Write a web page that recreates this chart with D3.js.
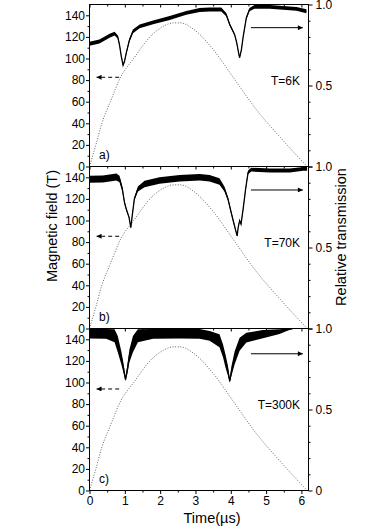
<!DOCTYPE html>
<html>
<head>
<meta charset="utf-8">
<script src="https://cdn.jsdelivr.net/npm/d3@7"></script>
<style>
body { margin: 0; background: #fff; }
svg text { font-family: "Liberation Sans", Arial, sans-serif; }
</style>
</head>
<body>
<svg width="374" height="528"></svg>
<script>
// magnetic field pulse (left axis, tesla) - same shot shape in all three panels
var fieldTime  = [0, 0.18, 0.35, 0.59, 0.87, 1.25, 1.77, 2.1, 2.38, 2.57, 2.95, 3.51, 4.08, 4.74, 5.4, 6.16];
var fieldValue = [0, 20, 40, 60, 82, 100, 122, 130, 133, 133, 127, 108, 82, 52, 27, 0];

// relative transmission, a) T=6K
var timeA   = [0, 0.28, 0.57, 0.71, 0.80, 0.85, 0.90, 0.95, 0.99, 1.04, 1.13, 1.23, 1.42, 1.80, 2.27, 2.74, 3.12, 3.40, 3.73, 3.87, 3.97, 4.11, 4.17, 4.23, 4.25, 4.30, 4.35, 4.44, 4.53, 4.67, 5.10, 5.48, 5.86, 6.14];
var transA  = [0.758, 0.772, 0.807, 0.82, 0.80, 0.75, 0.68, 0.625, 0.648, 0.70, 0.78, 0.834, 0.865, 0.89, 0.917, 0.948, 0.966, 0.969, 0.969, 0.938, 0.876, 0.814, 0.762, 0.69, 0.672, 0.72, 0.80, 0.917, 0.969, 0.985, 0.985, 0.979, 0.973, 0.958];
var spreadA = [0.012, 0.012, 0.012, 0.012, 0.01, 0.008, 0.006, 0.005, 0.006, 0.008, 0.01, 0.012, 0.012, 0.012, 0.012, 0.012, 0.012, 0.012, 0.012, 0.01, 0.008, 0.006, 0.005, 0.005, 0.005, 0.005, 0.006, 0.008, 0.01, 0.012, 0.012, 0.012, 0.012, 0.012];

// b) T=70K
var timeB   = [0, 0.38, 0.76, 0.85, 0.93, 0.99, 1.04, 1.12, 1.17, 1.21, 1.27, 1.37, 1.56, 1.98, 2.55, 3.12, 3.40, 3.68, 3.82, 3.92, 4.01, 4.08, 4.14, 4.18, 4.21, 4.25, 4.29, 4.35, 4.42, 4.49, 4.58, 5.10, 5.67, 6.05, 6.16];
var transB  = [0.921, 0.923, 0.935, 0.923, 0.861, 0.779, 0.738, 0.686, 0.622, 0.697, 0.80, 0.861, 0.892, 0.913, 0.927, 0.933, 0.927, 0.907, 0.861, 0.80, 0.717, 0.656, 0.604, 0.572, 0.625, 0.666, 0.645, 0.738, 0.861, 0.964, 0.981, 0.975, 0.975, 0.985, 0.985];
var spreadB = [0.022, 0.022, 0.022, 0.02, 0.015, 0.01, 0.008, 0.006, 0.005, 0.006, 0.01, 0.015, 0.02, 0.02, 0.02, 0.02, 0.02, 0.02, 0.015, 0.012, 0.01, 0.008, 0.006, 0.005, 0.006, 0.006, 0.006, 0.008, 0.01, 0.012, 0.012, 0.012, 0.012, 0.012, 0.012];

// c) T=300K
var timeC   = [0, 0.47, 0.71, 0.80, 0.90, 0.96, 1.02, 1.08, 1.13, 1.23, 1.37, 1.80, 2.55, 3.12, 3.40, 3.68, 3.78, 3.85, 3.92, 3.97, 4.02, 4.11, 4.25, 4.44, 4.91, 5.38, 5.62, 5.75];
var transC  = [0.969, 0.967, 0.955, 0.903, 0.82, 0.759, 0.685, 0.759, 0.831, 0.903, 0.955, 0.967, 0.969, 0.967, 0.955, 0.924, 0.862, 0.80, 0.738, 0.675, 0.738, 0.82, 0.903, 0.944, 0.965, 0.981, 0.994, 1.0];
var spreadC = [0.03, 0.03, 0.04, 0.05, 0.04, 0.03, 0.01, 0.03, 0.04, 0.05, 0.04, 0.03, 0.03, 0.03, 0.03, 0.04, 0.04, 0.04, 0.03, 0.01, 0.03, 0.04, 0.04, 0.03, 0.025, 0.015, 0.006, 0.003];

var panelLabels = ["a)", "b)", "c)"];
var tempLabels  = ["T=6K", "T=70K", "T=300K"];
var dashArrowField  = [82.6, 85.4, 94];     // "read left axis" arrow level (T)
var solidArrowTrans = [0.857, 0.855, 0.844]; // "read right axis" arrow level

var fieldTicks = [0, 20, 40, 60, 80, 100, 120, 140];
var fieldMinor = [10, 30, 50, 70, 90, 110, 130];
var transTicks = [0, 0.5, 1.0];
var transMinor = [0.1, 0.2, 0.3, 0.4, 0.6, 0.7, 0.8, 0.9];
var timeTicks  = [0, 1, 2, 3, 4, 5, 6];
var timeMinor  = [0.5, 1.5, 2.5, 3.5, 4.5, 5.5];

var svg = d3.select("svg"),
    left = 89.5,
    right = 308.5,
    plotTop = 4.5,
    panelH = 162,
    font = "Liberation Sans, Arial, sans-serif";

var x = d3.scaleLinear().domain([0, 6.2]).range([left, right]);

var panels = [
    {time: timeA, trans: transA, spread: spreadA},
    {time: timeB, trans: transB, spread: spreadB},
    {time: timeC, trans: transC, spread: spreadC}
];

var defs = svg.append("defs");
defs.append("marker").attr("id", "headSolid")
    .attr("viewBox", "0 0 10 10").attr("refX", 10).attr("refY", 5)
    .attr("markerWidth", 7).attr("markerHeight", 5).attr("markerUnits", "userSpaceOnUse")
    .attr("orient", "auto")
  .append("path").attr("d", "M0,0L10,5L0,10z").attr("fill", "#000");
defs.append("marker").attr("id", "headDash")
    .attr("viewBox", "0 0 10 10").attr("refX", 10).attr("refY", 5)
    .attr("markerWidth", 6).attr("markerHeight", 5).attr("markerUnits", "userSpaceOnUse")
    .attr("orient", "auto")
  .append("path").attr("d", "M0,0L10,5L0,10z").attr("fill", "#000");

var fieldRows = fieldTime.map(function(t, k) { return {t: t, v: fieldValue[k]}; });

function styleAxis(g) {
    g.select(".domain").remove();
    g.attr("font-size", 12).attr("font-family", font);
    g.selectAll("line").attr("stroke", "#000");
    g.selectAll("text").attr("fill", "#000");
}

panels.forEach(function(p, i) {
    var y0 = plotTop + i * panelH;
    var yB = d3.scaleLinear().domain([0, 150]).range([y0 + panelH, y0]);
    var yT = d3.scaleLinear().domain([0, 1]).range([y0 + panelH, y0]);

    defs.append("clipPath").attr("id", "clip" + i)
      .append("rect").attr("x", left).attr("y", y0).attr("width", right - left).attr("height", panelH);

    var g = svg.append("g");
    var plot = g.append("g").attr("clip-path", "url(#clip" + i + ")");

    // field pulse, dotted
    plot.append("path")
        .datum(fieldRows)
        .attr("fill", "none")
        .attr("stroke", "#555")
        .attr("stroke-width", 0.9)
        .attr("stroke-dasharray", "1,1.6")
        .attr("d", d3.line().curve(d3.curveMonotoneX)
            .x(function(d) { return x(d.t); })
            .y(function(d) { return yB(d.v); }));

    // noisy transmission trace: band + centre line
    var rows = p.time.map(function(t, k) { return {t: t, v: p.trans[k], s: p.spread[k]}; });
    plot.append("path")
        .datum(rows)
        .attr("fill", "#000")
        .attr("d", d3.area()
            .x(function(d) { return x(d.t); })
            .y0(function(d) { return yT(d.v - d.s); })
            .y1(function(d) { return yT(d.v + d.s); }));
    plot.append("path")
        .datum(rows)
        .attr("fill", "none")
        .attr("stroke", "#000")
        .attr("stroke-width", 1.3)
        .attr("d", d3.line()
            .x(function(d) { return x(d.t); })
            .y(function(d) { return yT(d.v); }));

    // axes
    g.append("g").attr("transform", "translate(" + left + ",0)")
        .call(d3.axisLeft(yB).tickValues(fieldTicks).tickSize(3.5).tickPadding(1).tickSizeOuter(0))
        .call(styleAxis);
    g.append("g").attr("transform", "translate(" + left + ",0)")
        .call(d3.axisLeft(yB).tickValues(fieldMinor).tickSize(2).tickFormat("").tickSizeOuter(0))
        .call(styleAxis);
    g.append("g").attr("transform", "translate(" + right + ",0)")
        .call(d3.axisRight(yT).tickValues(transTicks).tickSize(4).tickPadding(3).tickSizeOuter(0)
            .tickFormat(function(d) { return d === 0 ? (i === 2 ? "0" : "") : d3.format(".1f")(d); }))
        .call(styleAxis);
    g.append("g").attr("transform", "translate(" + right + ",0)")
        .call(d3.axisRight(yT).tickValues(transMinor).tickSize(2).tickFormat("").tickSizeOuter(0))
        .call(styleAxis);
    g.append("g").attr("transform", "translate(0," + y0 + ")")
        .call(d3.axisTop(x).tickValues(timeTicks).tickSize(-3).tickFormat("").tickSizeOuter(0))
        .call(styleAxis);
    g.append("g").attr("transform", "translate(0," + y0 + ")")
        .call(d3.axisTop(x).tickValues(timeMinor).tickSize(-2).tickFormat("").tickSizeOuter(0))
        .call(styleAxis);
    if (i === 2) {
        g.append("g").attr("transform", "translate(0," + (y0 + panelH) + ")")
            .call(d3.axisBottom(x).tickValues(timeTicks).tickSize(3.5).tickPadding(2).tickSizeOuter(0)
                .tickFormat(d3.format("d")))
            .call(styleAxis);
        g.append("g").attr("transform", "translate(0," + (y0 + panelH) + ")")
            .call(d3.axisBottom(x).tickValues(timeMinor).tickSize(2).tickFormat("").tickSizeOuter(0))
            .call(styleAxis);
    }

    g.append("rect")
        .attr("x", left).attr("y", y0)
        .attr("width", right - left).attr("height", panelH)
        .attr("fill", "none").attr("stroke", "#000").attr("stroke-width", 1);

    // arrows
    g.append("line")
        .attr("x1", x(0.84)).attr("x2", x(0.2))
        .attr("y1", yB(dashArrowField[i])).attr("y2", yB(dashArrowField[i]))
        .attr("stroke", "#000").attr("stroke-width", 1)
        .attr("stroke-dasharray", "4,3")
        .attr("marker-end", "url(#headDash)");
    g.append("line")
        .attr("x1", x(4.57)).attr("x2", x(6.04))
        .attr("y1", yT(solidArrowTrans[i])).attr("y2", yT(solidArrowTrans[i]))
        .attr("stroke", "#000").attr("stroke-width", 1)
        .attr("marker-end", "url(#headSolid)");

    g.append("text")
        .attr("x", x(5.96)).attr("y", yT(0.503))
        .attr("text-anchor", "end")
        .attr("font-size", 12)
        .text(tempLabels[i]);
    g.append("text")
        .attr("x", x(0.27)).attr("y", yB(7))
        .attr("font-size", 12)
        .text(panelLabels[i]);
});

svg.append("text")
    .attr("transform", "translate(57,226) rotate(-90)")
    .attr("text-anchor", "middle")
    .attr("font-size", 14.5)
    .text("Magnetic field (T)");

svg.append("text")
    .attr("transform", "translate(346,237) rotate(-90)")
    .attr("text-anchor", "middle")
    .attr("font-size", 14.5)
    .text("Relative transmission");

svg.append("text")
    .attr("x", 212).attr("y", 523)
    .attr("text-anchor", "middle")
    .attr("font-size", 14.5)
    .text("Time(\u00b5s)");
</script>
</body>
</html>
